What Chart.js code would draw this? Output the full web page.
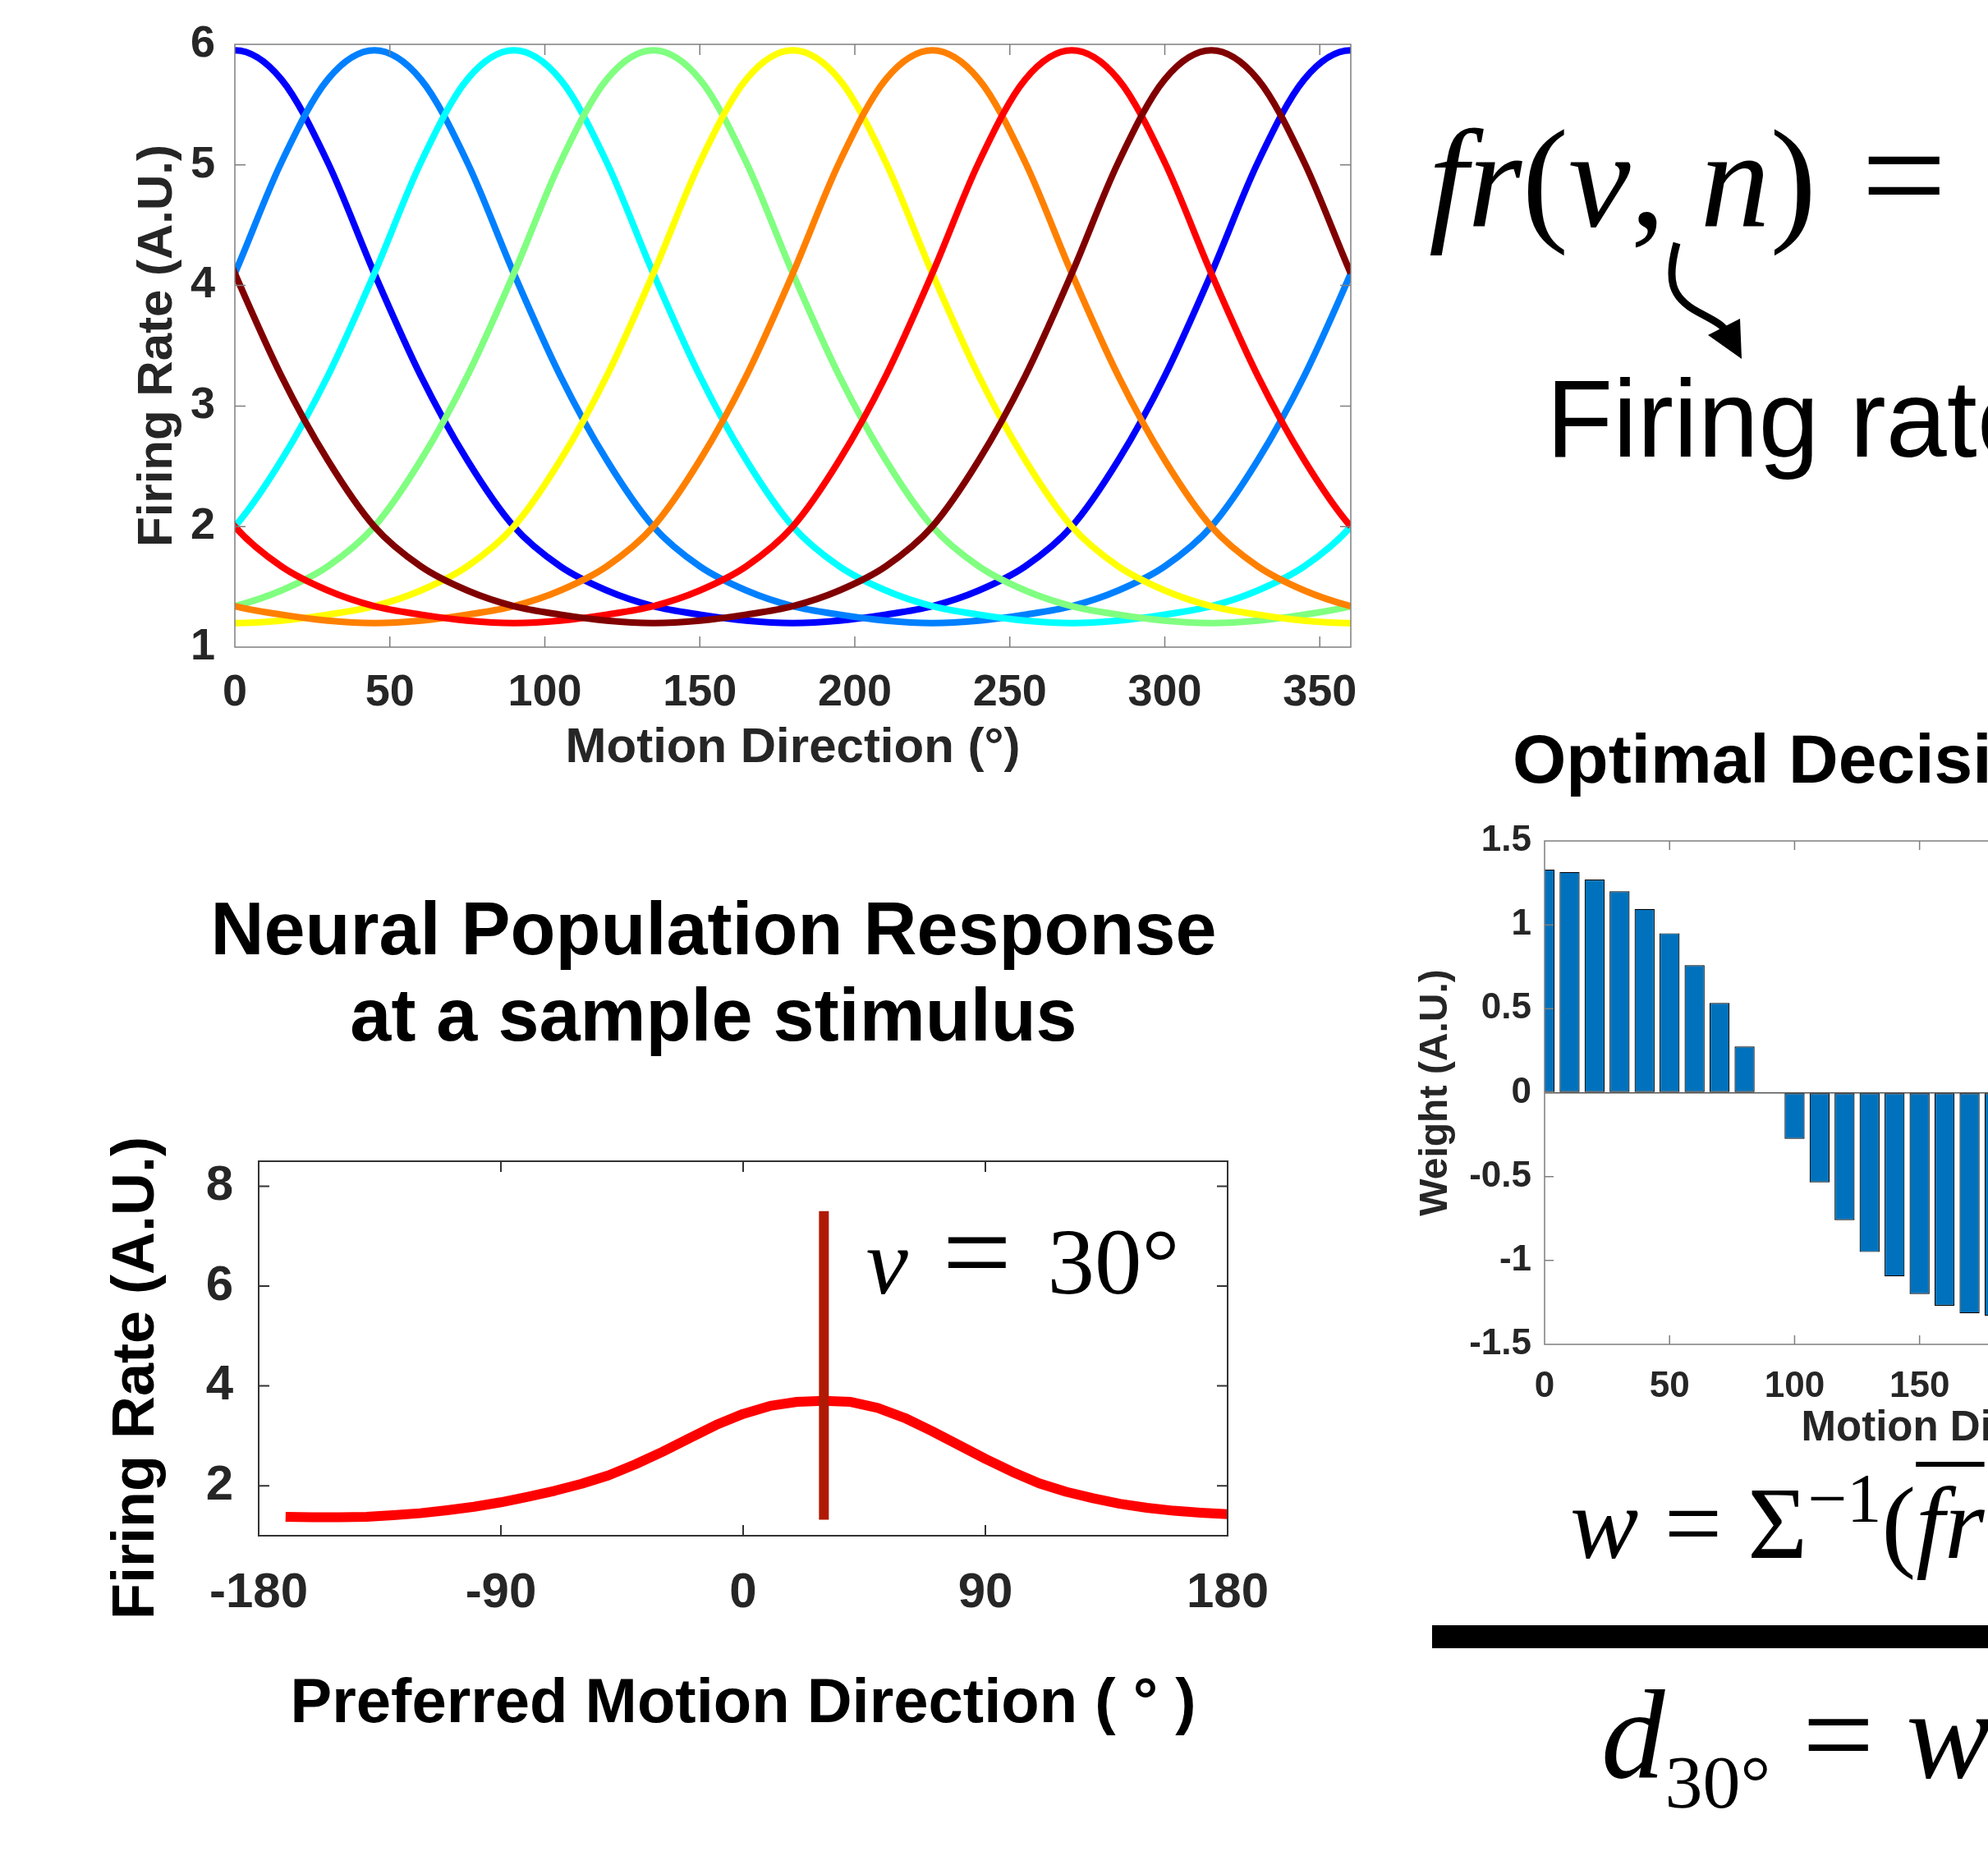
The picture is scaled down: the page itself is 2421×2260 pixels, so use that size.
<!DOCTYPE html>
<html>
<head>
<meta charset="utf-8">
<script src="https://cdn.jsdelivr.net/npm/chart.js@4.4.1/dist/chart.umd.min.js"></script>
<style>
html, body { margin: 0; padding: 0; overflow: hidden; background: #fff; }
body { width: 2421px; height: 2260px; position: relative; }
.panel { position: absolute; }
.math { position: absolute; font-family: "Liberation Serif", "Times New Roman", serif; color: #000; white-space: nowrap; line-height: 1; }
.sans { position: absolute; font-family: "Liberation Sans", Arial, sans-serif; color: #000; white-space: nowrap; line-height: 1; }
.ol { text-decoration: overline; text-decoration-thickness: 6px; }
</style>
</head>
<body>
<div class="panel" style="left:0;top:0"><canvas id="tuning" width="1700" height="1000"></canvas></div>
<div class="panel" style="left:100px;top:1040px"><canvas id="population" width="1538" height="1220"></canvas></div>
<div class="panel" style="left:1700px;top:980px"><canvas id="weights" width="1400" height="820"></canvas></div>

<!-- formulas and labels around the charts -->
<div class="math" style="left:1740px;top:120px;font-size:170px"><i>fr</i>(<i>v</i>, <i>n</i>) <span style="margin-left:12px;font-size:185px">=</span></div>
<svg style="position:absolute;left:0;top:0" width="2421" height="2260">
  <path d="M2042,296 C2030,340 2034,362 2068,380 S2092,394 2100,400" fill="none" stroke="#000" stroke-width="9"/>
  <polygon points="2080,408 2119,388 2121,437" fill="#000"/>
</svg>
<div class="sans" style="left:1883px;top:444px;font-size:133px">Firing rate</div>

<div class="sans" style="left:1842px;top:882px;font-size:84px;font-weight:bold">Optimal Decision Weights</div>

<div class="math" style="left:1912px;top:1793px;font-size:125px"><i>w</i> = Σ<span style="font-size:85px;position:relative;top:-44px">−1</span>(<i class="ol">fr</i></div>
<div style="position:absolute;left:1744px;top:1979px;width:700px;height:28px;background:#000"></div>
<div class="math" style="left:1950px;top:2035px;font-size:155px"><i>d</i><span style="font-size:92px;position:relative;top:37px">30°</span> = <i>w</i></div>

<script>
// tuning curves (top left): firing rate vs motion direction, one per preferred direction
// (one sample past each end so the curves leave the box smoothly)
const tuningDirs = [-15,0,15,30,45,60,75,90,105,120,135,150,165,180,195,210,225,240,255,270,285,300,315,330,345,360,375];
const fr0   = [5.71,5.95,5.71,5.02,4.10,3.25,2.55,2.00,1.67,1.47,1.34,1.27,1.22,1.20,1.22,1.27,1.34,1.47,1.67,2.00,2.55,3.25,4.10,5.02,5.71,5.95,5.71];
const fr45  = [3.25,4.10,5.02,5.71,5.95,5.71,5.02,4.10,3.25,2.55,2.00,1.67,1.47,1.34,1.27,1.22,1.20,1.22,1.27,1.34,1.47,1.67,2.00,2.55,3.25,4.10,5.02];
const fr90  = [1.67,2.00,2.55,3.25,4.10,5.02,5.71,5.95,5.71,5.02,4.10,3.25,2.55,2.00,1.67,1.47,1.34,1.27,1.22,1.20,1.22,1.27,1.34,1.47,1.67,2.00,2.55];
const fr135 = [1.27,1.34,1.47,1.67,2.00,2.55,3.25,4.10,5.02,5.71,5.95,5.71,5.02,4.10,3.25,2.55,2.00,1.67,1.47,1.34,1.27,1.22,1.20,1.22,1.27,1.34,1.47];
const fr180 = [1.22,1.20,1.22,1.27,1.34,1.47,1.67,2.00,2.55,3.25,4.10,5.02,5.71,5.95,5.71,5.02,4.10,3.25,2.55,2.00,1.67,1.47,1.34,1.27,1.22,1.20,1.22];
const fr225 = [1.47,1.34,1.27,1.22,1.20,1.22,1.27,1.34,1.47,1.67,2.00,2.55,3.25,4.10,5.02,5.71,5.95,5.71,5.02,4.10,3.25,2.55,2.00,1.67,1.47,1.34,1.27];
const fr270 = [2.55,2.00,1.67,1.47,1.34,1.27,1.22,1.20,1.22,1.27,1.34,1.47,1.67,2.00,2.55,3.25,4.10,5.02,5.71,5.95,5.71,5.02,4.10,3.25,2.55,2.00,1.67];
const fr315 = [5.02,4.10,3.25,2.55,2.00,1.67,1.47,1.34,1.27,1.22,1.20,1.22,1.27,1.34,1.47,1.67,2.00,2.55,3.25,4.10,5.02,5.71,5.95,5.71,5.02,4.10,3.25];
const jetColors = ['#0000ff','#0080ff','#00ffff','#80ff80','#ffff00','#ff8000','#ff0000','#800000'];
const topXTicks = [0,50,100,150,200,250,300,350];
const topYTicks = [1,2,3,4,5,6];

// population response (bottom left)
const prefDirs = [-170,-160,-150,-140,-130,-120,-110,-100,-90,-80,-70,-60,-50,-40,-30,-20,-10,0,10,20,30,40,50,60,70,80,90,100,110,120,130,140,150,160,170,180];
const popResponse = [1.38,1.37,1.37,1.38,1.41,1.45,1.51,1.58,1.67,1.78,1.90,2.04,2.21,2.43,2.68,2.95,3.22,3.44,3.60,3.68,3.70,3.68,3.56,3.36,3.10,2.82,2.54,2.28,2.05,1.88,1.75,1.64,1.56,1.50,1.46,1.43];
const stimDir = 30;
const stimLineY = [1.32, 7.5];
const popXTicks = [-180,-90,0,90,180];
const popYTicks = [2,4,6,8];

// decision weights (right), only the part inside the picture
const weightDirs = [0,10,20,30,40,50,60,70,80,90,100,110,120,130,140,150,160,170,180];
const weights = [1.33,1.315,1.27,1.20,1.095,0.95,0.76,0.535,0.275,0,-0.275,-0.535,-0.76,-0.95,-1.095,-1.20,-1.27,-1.315,-1.33];
const barXTicks = [0,50,100,150,200,250,300,350];
const barYTicks = [-1.5,-1,-0.5,0,0.5,1,1.5];

const xy = (xs, ys) => xs.map((x, i) => ({x: x, y: ys[i]}));
const useTicks = arr => s => { s.ticks = arr.map(v => ({value: v})); };

Chart.defaults.font.family = '"Liberation Sans", Arial, Helvetica, sans-serif';
Chart.defaults.color = '#262626';

// matlab style box with inward ticks on all four sides
const boxTicks = {
  id: 'boxTicks',
  afterDatasetsDraw(chart, args, opts) {
    const {ctx, chartArea: a, scales} = chart;
    const len = opts.len;
    ctx.save();
    ctx.strokeStyle = opts.color;
    ctx.lineWidth = opts.width;
    ctx.beginPath();
    scales.x.ticks.forEach(t => {
      const p = scales.x.getPixelForValue(t.value);
      if (p <= a.left + 1 || p >= a.right - 1) return;
      ctx.moveTo(p, a.bottom); ctx.lineTo(p, a.bottom - len);
      ctx.moveTo(p, a.top); ctx.lineTo(p, a.top + len);
    });
    scales.y.ticks.forEach(t => {
      const p = scales.y.getPixelForValue(t.value);
      if (p <= a.top + 1 || p >= a.bottom - 1) return;
      ctx.moveTo(a.left, p); ctx.lineTo(a.left + len, p);
      ctx.moveTo(a.right, p); ctx.lineTo(a.right - len, p);
    });
    ctx.stroke();
    ctx.strokeRect(a.left, a.top, a.right - a.left, a.bottom - a.top);
    ctx.restore();
  }
};

// "v = 30°" written inside the population plot
const stimLabel = [
  {text: 'v', x: 45.7, size: 115, italic: true},
  {text: '=', x: 74, size: 150},
  {text: '30°', x: 113, size: 115}
];
const stimLabelY = 5.85;
const stimText = {
  id: 'stimText',
  afterDatasetsDraw(chart) {
    const {ctx, scales} = chart;
    ctx.save();
    ctx.fillStyle = '#000';
    ctx.textBaseline = 'alphabetic';
    stimLabel.forEach(p => {
      ctx.font = (p.italic ? 'italic ' : '') + p.size + 'px "Liberation Serif", "Times New Roman", serif';
      ctx.fillText(p.text, scales.x.getPixelForValue(p.x), scales.y.getPixelForValue(stimLabelY));
    });
    ctx.restore();
  }
};

const baseOpts = {
  responsive: false,
  animation: false,
  devicePixelRatio: 1,
  events: []
};

new Chart(document.getElementById('tuning'), {
  type: 'line',
  data: {
    datasets: [fr0, fr45, fr90, fr135, fr180, fr225, fr270, fr315].map((s, k) => ({
      data: xy(tuningDirs, s),
      borderColor: jetColors[k],
      borderWidth: 8,
      pointRadius: 0,
      cubicInterpolationMode: 'monotone',
      clip: 0,
      order: -k
    }))
  },
  options: Object.assign({}, baseOpts, {
    layout: {padding: {top: 54, right: 55, left: 0, bottom: 0}},
    plugins: {
      legend: {display: false},
      tooltip: {enabled: false},
      boxTicks: {color: '#7f7f7f', width: 1.5, len: 13}
    },
    scales: {
      x: {
        type: 'linear', min: 0, max: 360,
        afterBuildTicks: useTicks(topXTicks),
        afterFit: s => { s.height = 212; },
        grid: {display: false}, border: {display: false},
        ticks: {padding: 16, maxRotation: 0, autoSkip: false, font: {size: 54, weight: 'bold'}},
        title: {display: true, text: 'Motion Direction (°)', font: {size: 60, weight: 'bold', lineHeight: 1}, padding: {top: 0, bottom: 59}}
      },
      y: {
        min: 1, max: 6,
        afterBuildTicks: useTicks(topYTicks),
        afterFit: s => { s.width = 286; },
        grid: {display: false}, border: {display: false},
        ticks: {padding: 16, font: {size: 54, weight: 'bold'}},
        title: {display: true, text: 'Firing Rate (A.U.)', font: {size: 60, weight: 'bold', lineHeight: 1}, padding: {top: 162, bottom: 0}}
      }
    }
  }),
  plugins: [boxTicks]
});

new Chart(document.getElementById('population'), {
  type: 'line',
  data: {
    datasets: [
      {data: [{x: stimDir, y: stimLineY[0]}, {x: stimDir, y: stimLineY[1]}], borderColor: '#b01a04', borderWidth: 12, pointRadius: 0, order: 0, clip: 0},
      {data: xy(prefDirs, popResponse), borderColor: '#ff0000', borderWidth: 12, pointRadius: 0, tension: 0, borderJoinStyle: 'round', order: 1, clip: 0}
    ]
  },
  options: Object.assign({}, baseOpts, {
    layout: {padding: 0},
    plugins: {
      legend: {display: false},
      tooltip: {enabled: false},
      title: {
        display: true,
        text: ['Neural Population Response', 'at a sample stimulus'],
        color: '#000',
        font: {size: 90, weight: 'bold', lineHeight: 1.1667},
        padding: {top: 44.5, bottom: 119.5}
      },
      boxTicks: {color: '#333', width: 2, len: 13}
    },
    scales: {
      x: {
        type: 'linear', min: -180, max: 180,
        afterBuildTicks: useTicks(popXTicks),
        afterFit: s => { s.height = 390; },
        grid: {display: false}, border: {display: false},
        ticks: {padding: 26, maxRotation: 0, autoSkip: false, font: {size: 60, weight: 'bold'}},
        title: {display: true, text: 'Preferred Motion Direction ( ° )', color: '#000', font: {size: 76, weight: 'bold', lineHeight: 1}, padding: {top: 0, bottom: 146}}
      },
      y: {
        min: 1, max: 8.5,
        afterBuildTicks: useTicks(popYTicks),
        afterFit: s => { s.width = 215; },
        grid: {display: false}, border: {display: false},
        ticks: {padding: 23, font: {size: 60, weight: 'bold'}},
        title: {display: true, text: 'Firing Rate (A.U.)\u2002\u2002', color: '#000', font: {size: 72, weight: 'bold', lineHeight: 1}, padding: {top: 31, bottom: 0}}
      },
      yR: {
        position: 'right',
        afterFit: s => { s.width = 143; },
        grid: {display: false}, border: {display: false},
        ticks: {display: false}
      }
    }
  }),
  plugins: [boxTicks, stimText]
});

new Chart(document.getElementById('weights'), {
  type: 'bar',
  data: {
    datasets: [{
      data: xy(weightDirs, weights),
      backgroundColor: '#0072bd',
      borderColor: '#000',
      borderWidth: 1.2,
      borderSkipped: false,
      barPercentage: 1,
      categoryPercentage: 0.8
    }]
  },
  options: Object.assign({}, baseOpts, {
    layout: {padding: {top: 44, right: 123, left: 0, bottom: 0}},
    plugins: {
      legend: {display: false},
      tooltip: {enabled: false},
      boxTicks: {color: '#7f7f7f', width: 1.5, len: 11}
    },
    scales: {
      x: {
        type: 'linear', min: 0, max: 360, offset: false,
        afterBuildTicks: useTicks(barXTicks),
        afterFit: s => { s.height = 163; },
        grid: {display: false}, border: {display: false},
        ticks: {padding: 17, maxRotation: 0, autoSkip: false, font: {size: 44, weight: 'bold'}},
        title: {display: true, text: 'Motion Direction (°)', font: {size: 51, weight: 'bold', lineHeight: 1}, padding: {top: 0, bottom: 35}}
      },
      y: {
        min: -1.5, max: 1.5,
        afterBuildTicks: useTicks(barYTicks),
        afterFit: s => { s.width = 181; },
        grid: {drawTicks: false, lineWidth: 1.5, color: c => (c.tick && c.tick.value === 0) ? '#555' : 'rgba(0,0,0,0)'},
        border: {display: false},
        ticks: {padding: 16, font: {size: 44, weight: 'bold'}, callback: v => String(v)},
        title: {display: true, text: 'Weight (A.U.)', font: {size: 48, weight: 'bold', lineHeight: 1}, padding: {top: 25, bottom: 0}}
      }
    }
  }),
  plugins: [boxTicks]
});
</script>
</body>
</html>
